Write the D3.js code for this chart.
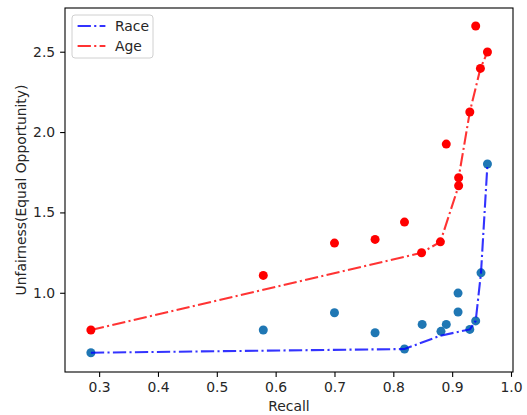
<!DOCTYPE html>
<html>
<head>
<meta charset="utf-8">
<script src="https://cdn.jsdelivr.net/npm/d3@7"></script>
<style>
  body { margin: 0; background: #fff; }
  svg text { font-family: "DejaVu Sans", sans-serif; fill: #262626; }
</style>
</head>
<body>
<div id="chart"></div>
<script>
// scatter points: [recall, unfairness]
const racePoints = [
  [0.286, 0.627], [0.579, 0.768], [0.700, 0.876], [0.769, 0.751],
  [0.819, 0.650], [0.849, 0.803], [0.881, 0.760], [0.890, 0.803],
  [0.910, 0.880], [0.910, 0.998], [0.930, 0.772], [0.940, 0.825],
  [0.949, 1.124], [0.960, 1.801]
];
const agePoints = [
  [0.286, 0.768], [0.579, 1.108], [0.700, 1.309], [0.769, 1.332],
  [0.819, 1.440], [0.848, 1.249], [0.880, 1.317], [0.890, 1.925],
  [0.911, 1.666], [0.911, 1.716], [0.930, 2.125], [0.948, 2.396],
  [0.960, 2.498], [0.940, 2.660]
];
// frontier lines
const raceLine = [
  [0.286, 0.627], [0.819, 0.650], [0.880, 0.733], [0.930, 0.772],
  [0.940, 0.825], [0.949, 1.124], [0.960, 1.801]
];
const ageLine = [
  [0.286, 0.768], [0.848, 1.249], [0.880, 1.317], [0.911, 1.666],
  [0.911, 1.716], [0.930, 2.125], [0.948, 2.396], [0.960, 2.498]
];
const xTicks = [0.3, 0.4, 0.5, 0.6, 0.7, 0.8, 0.9, 1.0];
const yTicks = [1.0, 1.5, 2.0, 2.5];
const legendLabels = ['Race', 'Age'];

const width = 527, height = 415;
const margin = { top: 8, right: 14, bottom: 43, left: 65 };
const fs = 13.9;   // 10pt at 100 dpi
const tick = 4.9;

const svg = d3.select('#chart').append('svg')
  .attr('width', width).attr('height', height);

const x = d3.scaleLinear().domain([0.242, 1.0034])
  .range([margin.left, width - margin.right]);
const y = d3.scaleLinear().domain([0.507, 2.772])
  .range([height - margin.bottom, margin.top]);

// axes
const xAxis = svg.append('g')
  .attr('transform', `translate(0,${height - margin.bottom})`)
  .call(d3.axisBottom(x).tickValues(xTicks).tickFormat(d3.format('.1f'))
    .tickSizeOuter(0).tickSize(tick).tickPadding(tick));
const yAxis = svg.append('g')
  .attr('transform', `translate(${margin.left},0)`)
  .call(d3.axisLeft(y).tickValues(yTicks).tickFormat(d3.format('.1f'))
    .tickSizeOuter(0).tickSize(tick).tickPadding(tick));
[xAxis, yAxis].forEach((g) => {
  g.select('.domain').remove();
  g.selectAll('line').attr('stroke', '#000').attr('stroke-width', 1.1);
  g.selectAll('text').attr('font-size', fs).style('fill', '#262626');
});

// frame
svg.append('rect')
  .attr('x', margin.left).attr('y', margin.top)
  .attr('width', width - margin.left - margin.right)
  .attr('height', height - margin.top - margin.bottom)
  .attr('fill', 'none').attr('stroke', '#000').attr('stroke-width', 1.1);

const line = d3.line().x((d) => x(d[0])).y((d) => y(d[1]));
const dash = '13.3,3.3,2.1,3.3';

// scatter under the lines
svg.append('g').selectAll('circle').data(racePoints).join('circle')
  .attr('cx', (d) => x(d[0])).attr('cy', (d) => y(d[1])).attr('r', 4.5)
  .attr('fill', '#1f77b4');
svg.append('g').selectAll('circle').data(agePoints).join('circle')
  .attr('cx', (d) => x(d[0])).attr('cy', (d) => y(d[1])).attr('r', 4.5)
  .attr('fill', '#ff0000');

svg.append('path').datum(raceLine).attr('d', line)
  .attr('fill', 'none').attr('stroke', '#0000ff').attr('stroke-opacity', 0.8)
  .attr('stroke-width', 2.1).attr('stroke-dasharray', dash);
svg.append('path').datum(ageLine).attr('d', line)
  .attr('fill', 'none').attr('stroke', '#ff0000').attr('stroke-opacity', 0.8)
  .attr('stroke-width', 2.1).attr('stroke-dasharray', dash);

// axis labels
svg.append('text')
  .attr('x', (margin.left + width - margin.right) / 2).attr('y', 411)
  .attr('text-anchor', 'middle').attr('font-size', fs).text('Recall');
svg.append('text')
  .attr('transform', `translate(26,${(margin.top + height - margin.bottom) / 2}) rotate(-90)`)
  .attr('text-anchor', 'middle').attr('font-size', fs)
  .text('Unfairness(Equal Opportunity)');

// legend
const legend = svg.append('g').attr('transform', 'translate(72,15)');
legend.append('rect').attr('width', 81).attr('height', 43).attr('rx', 3)
  .attr('fill', '#fff').attr('fill-opacity', 0.8)
  .attr('stroke', '#d0d0d0').attr('stroke-width', 1);
const legendColors = ['#0000ff', '#ff0000'];
legendLabels.forEach((label, i) => {
  const ly = 11 + i * 20;
  legend.append('line').attr('x1', 5.6).attr('x2', 33.4).attr('y1', ly).attr('y2', ly)
    .attr('stroke', legendColors[i]).attr('stroke-opacity', 0.8)
    .attr('stroke-width', 2.1).attr('stroke-dasharray', dash);
  legend.append('text').attr('x', 43).attr('y', ly + 5)
    .attr('font-size', fs).text(label);
});
</script>
</body>
</html>
